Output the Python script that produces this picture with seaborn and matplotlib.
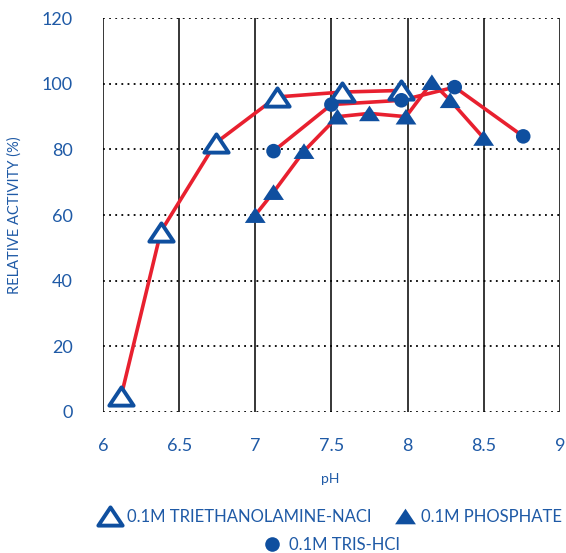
import matplotlib
matplotlib.use("Agg")
import matplotlib.pyplot as plt
from matplotlib.lines import Line2D
from matplotlib.path import Path
import seaborn as sns
import pandas as pd

# Data
tea_ph = [6.12, 6.38, 6.74, 7.14, 7.57, 7.96]
tea_act = [5, 55, 82, 96, 97.5, 98]
phos_ph = [7.0, 7.12, 7.32, 7.54, 7.75, 7.99, 8.16, 8.28, 8.5]
phos_act = [60, 67, 79.5, 90, 91, 90, 100.5, 95, 83.5]
tris_ph = [7.12, 7.5, 7.96, 8.31, 8.76]
tris_act = [79.5, 93.7, 95, 99, 84]
labels = ["0.1M TRIETHANOLAMINE-NACI", "0.1M PHOSPHATE", "0.1M TRIS-HCI"]
x_ticks = [6, 6.5, 7, 7.5, 8, 8.5, 9]
x_tick_labels = ["6", "6.5", "7", "7.5", "8", "8.5", "9"]
y_ticks = [0, 20, 40, 60, 80, 100, 120]

RED = "#e8202f"
BLUE = "#0f4f9f"
TEXT = "#1f5aa6"
# flat triangle, closed so the outline joins properly
TRI = Path([(0, 0.75), (-1, -0.75), (1, -0.75), (0, 0.75)],
           [Path.MOVETO, Path.LINETO, Path.LINETO, Path.CLOSEPOLY])

sns.set_style("white")
plt.rcParams["font.family"] = ["Lato", "DejaVu Sans"]

fig = plt.figure(figsize=(5.66, 5.53), dpi=100)
ax = fig.add_axes([0.182, 0.255, 0.807, 0.712])

tea = pd.DataFrame({"pH": tea_ph, "act": tea_act})
phos = pd.DataFrame({"pH": phos_ph, "act": phos_act})
tris = pd.DataFrame({"pH": tris_ph, "act": tris_act})

# red connecting lines
for df in [tea, phos, tris]:
    sns.lineplot(data=df, x="pH", y="act", color=RED, linewidth=2.6,
                 sort=False, ax=ax, zorder=2)

# blue markers on top
sns.scatterplot(data=tea, x="pH", y="act", marker=TRI, s=17.5 ** 2,
                facecolor="white", edgecolor=BLUE, linewidth=2.8, ax=ax, zorder=3)
sns.scatterplot(data=phos, x="pH", y="act", marker=TRI, s=15 ** 2,
                color=BLUE, edgecolor="none", ax=ax, zorder=3)
sns.scatterplot(data=tris, x="pH", y="act", marker="o", s=10.5 ** 2,
                color=BLUE, edgecolor="none", ax=ax, zorder=3)

ax.set_xlim(6, 9)
ax.set_ylim(0, 120)
ax.set_xticks(x_ticks)
ax.set_xticklabels(x_tick_labels)
ax.set_yticks(y_ticks)
for s in ax.spines.values():
    s.set_visible(False)
ax.set_axisbelow(True)
ax.xaxis.grid(True, color="black", linewidth=1.1, linestyle="-")
ax.yaxis.grid(True, color="black", linewidth=1.3, linestyle=(0, (1, 2.4)))
ax.tick_params(axis="both", length=0, labelsize=13, labelcolor=TEXT)
ax.tick_params(axis="x", pad=19)
ax.tick_params(axis="y", pad=22)

ax.set_xlabel("pH", fontsize=10, color=TEXT)
ax.set_ylabel("RELATIVE ACTIVITY (%)", fontsize=10.5, color=TEXT)
ax.xaxis.set_label_coords(0.497, -0.155)
ax.yaxis.set_label_coords(-0.178, 0.5)

h_tea = Line2D([], [], linestyle="none", marker=TRI, markersize=17.5,
               markerfacecolor="white", markeredgecolor=BLUE, markeredgewidth=2.8)
h_phos = Line2D([], [], linestyle="none", marker=TRI, markersize=15,
                markerfacecolor=BLUE, markeredgecolor=BLUE, markeredgewidth=0)
h_tris = Line2D([], [], linestyle="none", marker="o", markersize=10.5,
                markerfacecolor=BLUE, markeredgecolor=BLUE, markeredgewidth=0)

leg_kw = dict(frameon=False, fontsize=12, labelcolor=TEXT, handlelength=1.2,
              handletextpad=0.4, borderpad=0, borderaxespad=0, columnspacing=1.4)
fig.legend([h_tea, h_phos], labels[:2], loc="center", ncol=2,
           bbox_to_anchor=(0.585, 0.065), **leg_kw)
fig.legend([h_tris], labels[2:], loc="center",
           bbox_to_anchor=(0.585, 0.0145), **leg_kw)

fig.savefig("out.png", dpi=100)
